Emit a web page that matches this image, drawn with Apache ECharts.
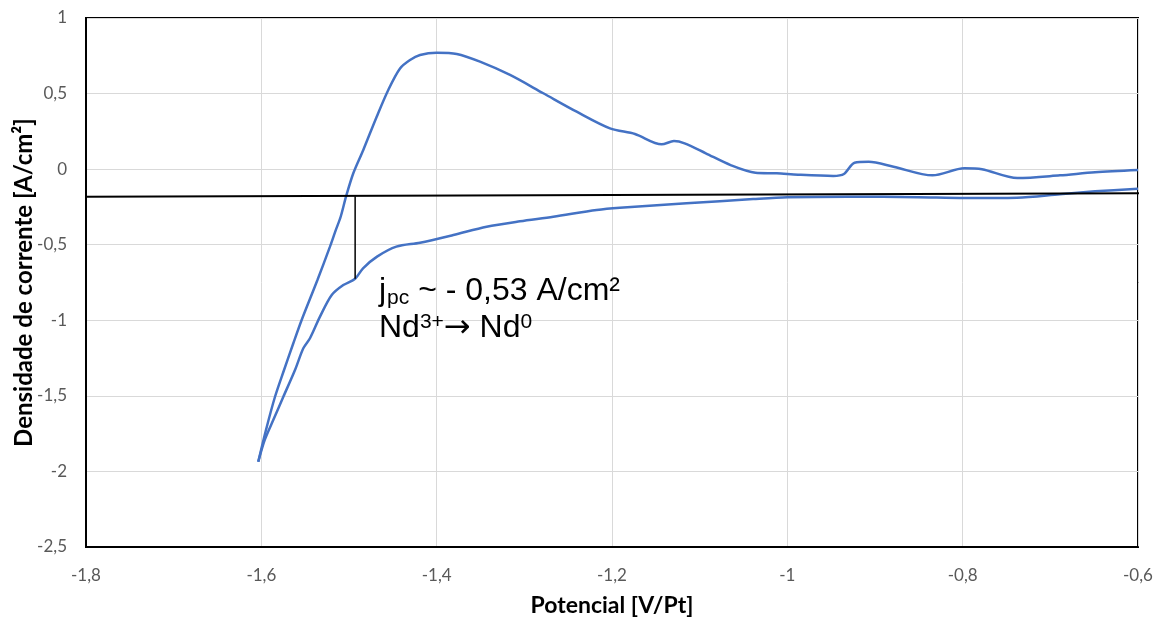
<!DOCTYPE html>
<html>
<head>
<meta charset="utf-8">
<script src="https://cdn.jsdelivr.net/npm/echarts@6/dist/echarts.min.js"></script>
<style>
html,body{margin:0;padding:0;background:#fff;}
#chart{width:1156px;height:618px;}
</style>
</head>
<body>
<div id="chart"></div>
<script>
// Cathodic sweep (from -0.6 V towards -1.6 V)
const cathodicPotential = [-0.6,-0.649,-0.689,-0.738,-0.798,-0.851,-0.931,-1.0,-1.039,-1.115,-1.191,-1.2175,-1.267,-1.305,-1.343,-1.381,-1.419,-1.446,-1.468,-1.484,-1.493,-1.5065,-1.5197,-1.5331,-1.5445,-1.5521,-1.5616,-1.5749,-1.5864,-1.596,-1.6035];
const cathodicCurrent   = [-0.129,-0.147,-0.166,-0.189,-0.191,-0.186,-0.182,-0.186,-0.198,-0.226,-0.255,-0.270,-0.315,-0.345,-0.381,-0.436,-0.487,-0.513,-0.579,-0.656,-0.725,-0.767,-0.833,-0.976,-1.119,-1.185,-1.329,-1.506,-1.660,-1.79,-1.936];
// Anodic sweep (from -1.6 V back to -0.6 V)
const anodicPotential = [-1.6035,-1.5947,-1.5844,-1.5741,-1.5635,-1.554,-1.536,-1.5217,-1.5155,-1.5095,-1.5034,-1.4951,-1.4837,-1.4684,-1.4552,-1.4418,-1.4304,-1.419,-1.4,-1.3771,-1.3506,-1.3163,-1.2784,-1.2403,-1.2023,-1.1738,-1.1434,-1.1293,-1.1172,-1.093,-1.0647,-1.0364,-1.0121,-0.9878,-0.9476,-0.9354,-0.9233,-0.9072,-0.8789,-0.8344,-0.7981,-0.778,-0.7376,-0.689,-0.649,-0.6];
const anodicCurrent   = [-1.936,-1.726,-1.506,-1.329,-1.152,-0.998,-0.7335,-0.513,-0.410,-0.315,-0.182,-0.0275,0.127,0.347,0.524,0.666,0.722,0.755,0.770,0.762,0.711,0.623,0.502,0.380,0.270,0.2325,0.164,0.186,0.171,0.105,0.027,-0.0235,-0.0275,-0.037,-0.045,-0.032,0.0426,0.049,0.016,-0.041,0.0056,-0.001,-0.059,-0.041,-0.021,-0.006];
// Baseline drawn for peak current estimation
const baselinePotential = [-1.8035,-0.598];
const baselineCurrent   = [-0.182,-0.160];
// Peak marker (vertical segment)
const peakPotential = [-1.493,-1.493];
const peakCurrent   = [-0.180,-0.725];

const xTicks = {min:-1.8, max:-0.6, interval:0.2};
const yTicks = {min:-2.5, max:1, interval:0.5};

function zip(a,b){return a.map((v,i)=>[v,b[i]]);}
function fmt(v){return String(Math.round(v*10)/10).replace('.',',');}

const chart = echarts.init(document.getElementById('chart'), null, {renderer:'canvas'});
const blue = '#4472C4';
chart.setOption({
  animation:false,
  backgroundColor:'#fff',
  grid:{left:86,right:18,top:18,bottom:71,containLabel:false,outerBoundsMode:'none',show:true,borderColor:'#000',borderWidth:2,backgroundColor:'transparent'},
  xAxis:{
    type:'value', min:xTicks.min, max:xTicks.max, interval:xTicks.interval,
    axisLine:{show:true,onZero:false,lineStyle:{color:'#000',width:2}},
    axisTick:{show:false},
    splitLine:{show:true,lineStyle:{color:'#d9d9d9',width:1}},
    axisLabel:{formatter:fmt,color:'#595959',fontFamily:'Lato',fontSize:17,margin:20},
    name:'Potencial [V/Pt]', nameLocation:'middle', nameGap:47, nameMoveOverlap:false,
    nameTextStyle:{fontFamily:'Lato',fontWeight:'bold',fontSize:23,color:'#000'}
  },
  yAxis:{
    type:'value', min:yTicks.min, max:yTicks.max, interval:yTicks.interval,
    axisLine:{show:true,onZero:false,lineStyle:{color:'#000',width:2}},
    axisTick:{show:false},
    splitLine:{show:true,lineStyle:{color:'#d9d9d9',width:1}},
    axisLabel:{formatter:fmt,color:'#595959',fontFamily:'Lato',fontSize:17,margin:19},
    name:'Densidade de corrente [A/cm²]', nameLocation:'middle', nameGap:50, nameRotate:90, nameMoveOverlap:false,
    nameTextStyle:{fontFamily:'Lato',fontWeight:'bold',fontSize:24,color:'#000'}
  },
  series:[
    {type:'line',data:zip(cathodicPotential,cathodicCurrent),smooth:0.3,showSymbol:false,lineStyle:{color:blue,width:2.5},z:3},
    {type:'line',data:zip(anodicPotential,anodicCurrent),smooth:0.3,showSymbol:false,lineStyle:{color:blue,width:2.5},z:3},
    {type:'line',data:zip(baselinePotential,baselineCurrent),clip:false,showSymbol:false,lineStyle:{color:'#000',width:2},z:4},
    {type:'line',data:zip(peakPotential,peakCurrent),clip:false,showSymbol:false,lineStyle:{color:'#000',width:1.5},z:4}
  ],
  graphic:[{
    type:'text', left:379, top:274, z:10,
    style:{
      text:'{m|j}{s|pc}{m| ~ - 0,53 A/cm²}\n{m|Nd}{p|3+}{a|→}{m| Nd}{p|0}',
      fill:'#000',
      rich:{
        m:{fontFamily:'Liberation Sans',fontSize:32,lineHeight:37,fill:'#000'},
        a:{fontFamily:'DejaVu Sans',fontSize:32,lineHeight:37,fill:'#000'},
        s:{fontFamily:'Liberation Sans',fontSize:21,lineHeight:37,fill:'#000',padding:[14,0,0,1]},
        p:{fontFamily:'Liberation Sans',fontSize:21,lineHeight:37,fill:'#000',padding:[0,0,12,0]}
      }
    }
  }]
});
</script>
</body>
</html>
